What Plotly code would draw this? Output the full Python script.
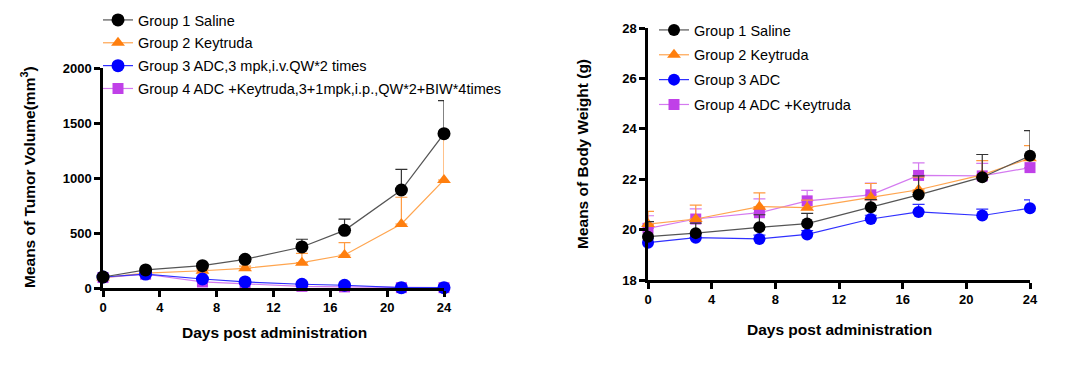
import plotly.graph_objects as go

days = [0, 3, 7, 10, 14, 17, 21, 24]
x_ticks = [0, 4, 8, 12, 16, 20, 24]

# Tumor volume (mm3), means and upper SEM
tv_g1 = [100, 164, 203, 261, 373, 524, 891, 1403]
tv_g1_err = [10, 15, 18, 22, 70, 103, 188, 300]
tv_g2 = [95, 136, 157, 179, 230, 300, 582, 982]
tv_g2_err = [8, 12, 15, 20, 85, 112, 243, 410]
tv_g3 = [100, 127, 82, 55, 34, 25, 3, 3]
tv_g3_err = [6, 6, 5, 4, 3, 3, 1, 1]
tv_g4 = [95, 125, 55, 35, 15, 10, 3, 3]
tv_g4_err = [6, 6, 5, 4, 3, 3, 1, 1]

# Body weight (g), means and upper SEM
bw_g1 = [19.72, 19.86, 20.09, 20.24, 20.89, 21.38, 22.08, 22.93]
bw_g1_err = [0.6, 0.4, 0.5, 0.4, 0.3, 0.75, 0.9, 1.0]
bw_g2 = [20.22, 20.42, 20.91, 20.87, 21.28, 21.58, 22.17, 22.83]
bw_g2_err = [0.5, 0.55, 0.55, 0.3, 0.55, 0.5, 0.57, 0.5]
bw_g3 = [19.48, 19.68, 19.63, 19.81, 20.42, 20.70, 20.56, 20.85]
bw_g3_err = [0.15, 0.15, 0.15, 0.15, 0.15, 0.3, 0.25, 0.33]
bw_g4 = [20.05, 20.42, 20.67, 21.14, 21.38, 22.15, 22.13, 22.46]
bw_g4_err = [0.5, 0.4, 0.55, 0.42, 0.47, 0.5, 0.5, 0.3]

tv_names = ["Group 1 Saline", "Group 2 Keytruda", "Group 3 ADC,3 mpk,i.v.QW*2 times",
            "Group 4 ADC +Keytruda,3+1mpk,i.p.,QW*2+BIW*4times"]
bw_names = ["Group 1 Saline", "Group 2 Keytruda", "Group 3 ADC", "Group 4 ADC +Keytruda"]

marker_colors = ["#000000", "#FF7F0E", "#0000FF", "#C040E8"]
line_colors = ["#555555", "#FFA54F", "#3030FF", "#D47AF0"]
err_colors = ["#333333", "#FF9A40", "#3030FF", "#D47AF0"]
symbols = ["circle", "triangle-up", "circle", "square"]

W, H = 1080, 376
FONT = "Liberation Sans, Arial, sans-serif"

fig = go.Figure()

def add_series(xa, ya, legend, names, vals, errs, sizes):
    order = [3, 1, 2, 0]
    for i in order:
        fig.add_trace(go.Scatter(
            x=days, y=vals[i], name=names[i], mode="lines+markers",
            xaxis=xa, yaxis=ya, legend=legend, legendrank=i + 1,
            legendgroup=legend + str(i),
            line=dict(color=line_colors[i], width=1.2),
            marker=dict(color=marker_colors[i], symbol=symbols[i], size=sizes[i]),
            error_y=dict(type="data", array=errs[i], arrayminus=[0] * len(errs[i]),
                         symmetric=False, color=err_colors[i], thickness=1.2, width=6),
            cliponaxis=False,
        ))

add_series("x", "y", "legend", tv_names,
           [tv_g1, tv_g2, tv_g3, tv_g4], [tv_g1_err, tv_g2_err, tv_g3_err, tv_g4_err],
           [13, 12, 13, 11])
add_series("x2", "y2", "legend2", bw_names,
           [bw_g1, bw_g2, bw_g3, bw_g4], [bw_g1_err, bw_g2_err, bw_g3_err, bw_g4_err],
           [12, 12, 12, 11])

def px_x(p):
    return p / W

def px_y(p):
    return 1 - p / H

axis_common = dict(showgrid=False, zeroline=False, showline=True, linecolor="black",
                   linewidth=2.5, ticks="outside", ticklen=6, tickwidth=2.5, tickcolor="black",
                   automargin=False,
                   tickfont=dict(family=FONT, size=13, color="black", weight="bold"))

fig.update_layout(
    width=W, height=H,
    margin=dict(l=0, r=0, t=0, b=0, pad=0, autoexpand=False),
    paper_bgcolor="white", plot_bgcolor="white",
    font=dict(family=FONT, color="black"),
    xaxis=dict(domain=[px_x(103), px_x(444)], range=[0, 24], tickvals=x_ticks,
               anchor="y", **axis_common),
    yaxis=dict(domain=[px_y(288), px_y(68)], range=[0, 2000], tickvals=[0, 500, 1000, 1500, 2000],
               anchor="x", **axis_common),
    xaxis2=dict(domain=[px_x(648), px_x(1030)], range=[0, 24], tickvals=x_ticks,
                anchor="y2", **axis_common),
    yaxis2=dict(domain=[px_y(280), px_y(28)], range=[18, 28], tickvals=[18, 20, 22, 24, 26, 28],
                anchor="x2", **axis_common),
    legend=dict(x=px_x(98), y=px_y(4), xanchor="left", yanchor="top",
                font=dict(family=FONT, size=14.5, color="black"),
                bgcolor="rgba(0,0,0,0)", tracegroupgap=1, traceorder="grouped"),
    legend2=dict(x=px_x(654), y=px_y(14), xanchor="left", yanchor="top",
                 font=dict(family=FONT, size=14.5, color="black"),
                 bgcolor="rgba(0,0,0,0)", tracegroupgap=3, traceorder="grouped"),
    showlegend=True,
)

title_font = dict(family=FONT, size=15.5, color="black", weight="bold")
fig.add_annotation(text="Days post administration", x=px_x(274), y=px_y(332), xref="paper",
                   yref="paper", showarrow=False, font=title_font, xanchor="center", yanchor="middle")
fig.add_annotation(text="Days post administration", x=px_x(839), y=px_y(329), xref="paper",
                   yref="paper", showarrow=False, font=title_font, xanchor="center", yanchor="middle")
fig.add_annotation(text="Means of Tumor Volume(mm<sup>3</sup>)", x=px_x(28), y=px_y(177),
                   xref="paper", yref="paper", showarrow=False, font=title_font, textangle=-90,
                   xanchor="center", yanchor="middle")
fig.add_annotation(text="Means of Body Weight (g)", x=px_x(583), y=px_y(154),
                   xref="paper", yref="paper", showarrow=False, font=title_font, textangle=-90,
                   xanchor="center", yanchor="middle")

fig.write_html("out.html", config={"displayModeBar": False},
               post_script="document.body.style.margin='0';")
